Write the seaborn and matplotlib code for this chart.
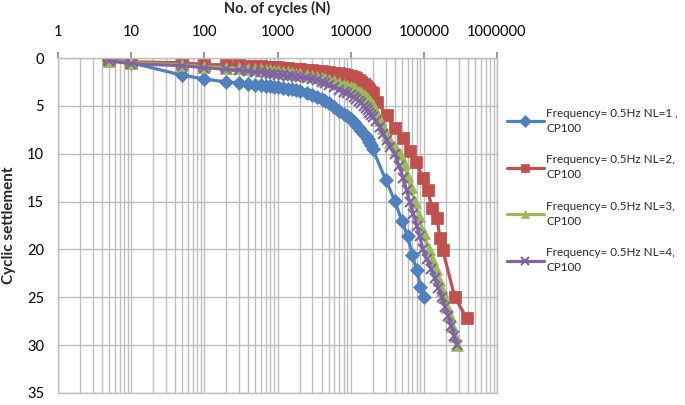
import numpy as np
import pandas as pd
import matplotlib
matplotlib.use("Agg")
import matplotlib.pyplot as plt
from matplotlib.ticker import LogLocator, FixedLocator, FuncFormatter
import seaborn as sns

# ---------------- data ----------------
n_nl1 = [5, 10, 50, 100, 200, 300, 400, 500, 600, 700, 800, 900, 1000, 1200, 1400, 1600, 1800,
         2000, 2500, 3000, 3500, 4000, 4500, 5000, 6000, 7000, 8000, 9000, 10000, 11000, 12000,
         13000, 14000, 15000, 16000, 17000, 18000, 19000, 20000, 30000, 40000, 50000, 60000,
         70000, 80000, 90000, 100000]
s_nl1 = [0.2, 0.5, 1.8, 2.2, 2.5, 2.6, 2.7, 2.8, 2.8, 2.9, 2.9, 3.0, 3.0, 3.1, 3.2, 3.2, 3.3,
         3.4, 3.7, 3.9, 4.1, 4.3, 4.5, 4.7, 5.1, 5.5, 5.8, 6.1, 6.4, 6.7, 7.0,
         7.3, 7.6, 7.9, 8.2, 8.5, 8.8, 9.1, 9.5, 12.7, 14.9, 17.0, 18.6,
         20.6, 22.2, 23.9, 25.0]

n_nl2 = [5, 10, 50, 100, 200, 300, 400, 500, 600, 700, 800, 900, 1000, 1200, 1400, 1600, 1800,
         2000, 2500, 3000, 3500, 4000, 4500, 5000, 6000, 7000, 8000, 9000, 10000, 11000, 12000,
         13000, 14000, 15000, 16000, 17000, 18000, 19000, 20000, 23000, 31000, 40000, 52000,
         64000, 78000, 97000, 113000, 129000, 151000, 166000, 182000, 265000, 387000]
s_nl2 = [0.2, 0.4, 0.5, 0.7, 0.7, 0.7, 0.8, 0.8, 0.8, 0.9, 0.9, 0.9, 0.9, 1.0, 1.0, 1.1, 1.1,
         1.2, 1.25, 1.3, 1.35, 1.4, 1.45, 1.5, 1.55, 1.6, 1.7, 1.8, 1.9, 2.0, 2.1,
         2.3, 2.5, 2.7, 2.9, 3.1, 3.3, 3.5, 3.7, 4.6, 6.0, 7.3, 8.4,
         9.7, 10.9, 12.5, 13.8, 15.7, 16.7, 18.8, 20.1, 25.0, 27.2]

n_nl3 = [5, 10, 50, 100, 200, 300, 400, 500, 600, 700, 800, 900, 1000, 1200, 1400, 1600, 1800,
         2000, 2500, 3000, 3500, 4000, 4500, 5000, 6000, 7000, 8000, 9000, 10000, 11000, 12000,
         13000, 14000, 15000, 16000, 17000, 18000, 19000, 20000, 22000, 25000, 28000, 31000,
         35000, 41000, 47000, 53000, 59000, 66000, 75000, 85000, 100000, 117000, 130000, 145000,
         160000, 175000, 188000, 205000, 225000, 245000, 265000, 282000]
s_nl3 = [0.3, 0.5, 0.7, 0.9, 1.0, 1.0, 1.1, 1.2, 1.2, 1.3, 1.3, 1.4, 1.4, 1.5, 1.5, 1.6, 1.7,
         1.7, 1.8, 1.9, 2.0, 2.1, 2.2, 2.3, 2.4, 2.6, 2.8, 2.9, 3.0, 3.1, 3.3,
         3.5, 3.7, 3.9, 4.1, 4.3, 4.5, 4.7, 4.9, 5.6, 6.5, 7.3, 8.0,
         8.8, 9.5, 10.0, 11.0, 12.2, 13.5, 15.0, 16.5, 18.3, 20.0, 21.0, 22.0,
         23.2, 24.2, 25.0, 26.0, 27.0, 28.0, 29.0, 30.0]

n_nl4 = [5, 10, 50, 100, 200, 300, 400, 500, 600, 700, 800, 900, 1000, 1200, 1400, 1600, 1800,
         2000, 2500, 3000, 3500, 4000, 4500, 5000, 6000, 7000, 8000, 9000, 10000, 11000, 12000,
         13000, 14000, 15000, 16000, 17000, 18000, 19000, 20000, 22000, 25000, 28000, 31000,
         35000, 40000, 46000, 52000, 58000, 64000, 72000, 80000, 88000, 97000, 110000, 125000,
         140000, 158000, 176000, 195000, 215000, 238000, 260000, 282000]
s_nl4 = [0.3, 0.6, 0.8, 1.0, 1.2, 1.3, 1.4, 1.5, 1.5, 1.6, 1.7, 1.7, 1.8, 1.8, 1.9, 1.9, 2.0,
         2.0, 2.1, 2.2, 2.3, 2.5, 2.6, 2.8, 3.0, 3.3, 3.5, 3.7, 3.9, 4.1, 4.3,
         4.5, 4.7, 5.0, 5.2, 5.4, 5.7, 6.0, 6.2, 6.6, 7.2, 7.9, 8.6,
         9.3, 10.0, 11.3, 12.5, 13.8, 15.0, 16.3, 17.5, 18.6, 20.0, 21.0, 22.0,
         23.0, 24.0, 25.0, 26.0, 27.0, 28.0, 29.0, 30.0]

series_labels = ["Frequency= 0.5Hz NL=1 ,\nCP100",
                 "Frequency= 0.5Hz NL=2,\nCP100",
                 "Frequency= 0.5Hz NL=3,\nCP100",
                 "Frequency= 0.5Hz NL=4,\nCP100"]
x_tick_values = [1, 10, 100, 1000, 10000, 100000, 1000000]
y_tick_values = [0, 5, 10, 15, 20, 25, 30, 35]
x_title = "No. of cycles (N)"
y_title = "Cyclic settlement"

# ---------------- style ----------------
sns.set_theme(style="white")
plt.rcParams["font.family"] = ["Lato", "DejaVu Sans"]

colors = ["#4F81BD", "#C0504D", "#9BBB59", "#8064A2"]
markers = ["D", "s", "^", "x"]
msizes = [7.5, 8.5, 8, 7.5]

frames = []
for lab, n, s in zip(series_labels, [n_nl1, n_nl2, n_nl3, n_nl4], [s_nl1, s_nl2, s_nl3, s_nl4]):
    frames.append(pd.DataFrame({"N": n, "settlement": s, "series": lab}))
df = pd.concat(frames, ignore_index=True)

fig = plt.figure(figsize=(6.85, 4.05), dpi=100)
ax = fig.add_axes([58 / 685, 1 - 393 / 405, (497 - 58) / 685, (393 - 58) / 405])

for lab, c, m, ms in zip(series_labels, colors, markers, msizes):
    sub = df[df["series"] == lab]
    sns.lineplot(data=sub, x="N", y="settlement", ax=ax, color=c, marker=m,
                 markersize=ms, markeredgecolor=c, markerfacecolor=c,
                 markeredgewidth=1.5 if m == "x" else 0.5,
                 linewidth=2.3, sort=False, estimator=None, label=lab)

ax.set_xscale("log")
ax.set_xlim(1, 1000000)
ax.set_ylim(35, 0)

ax.xaxis.set_major_locator(FixedLocator(x_tick_values))
ax.xaxis.set_minor_locator(LogLocator(base=10, subs=range(2, 10), numticks=20))
ax.xaxis.set_major_formatter(FuncFormatter(lambda v, p: f"{int(round(v))}"))
ax.xaxis.set_minor_formatter(FuncFormatter(lambda v, p: ""))
ax.yaxis.set_major_locator(FixedLocator(y_tick_values))

ax.xaxis.tick_top()
ax.xaxis.set_label_position("top")

grid_c = "#BDBDBD"
ax.grid(True, which="major", axis="both", color=grid_c, linewidth=1.0)
ax.grid(True, which="minor", axis="x", color=grid_c, linewidth=1.0)
ax.set_axisbelow(True)
for sp in ax.spines.values():
    sp.set_color(grid_c)
    sp.set_linewidth(1.0)

ax.tick_params(axis="both", which="major", labelsize=10.5, colors="#000000",
               length=4, color="#8C8C8C", direction="out", pad=6)
ax.tick_params(axis="x", which="minor", length=0)
ax.tick_params(axis="x", which="major", pad=10)

ax.set_xlabel(x_title, fontsize=10.5, fontweight="bold", labelpad=8)
ax.set_ylabel(y_title, fontsize=11, fontweight="bold", labelpad=8)

leg = ax.legend(loc="upper left", bbox_to_anchor=(502 / 685, 1 - 103 / 405),
                bbox_transform=fig.transFigure, frameon=False, fontsize=8.4,
                handlelength=3.2, handletextpad=0.2, labelspacing=1.75,
                borderaxespad=0, markerscale=0.75)
for t in leg.get_texts():
    t.set_linespacing(1.45)

fig.savefig("out.png", dpi=100)
